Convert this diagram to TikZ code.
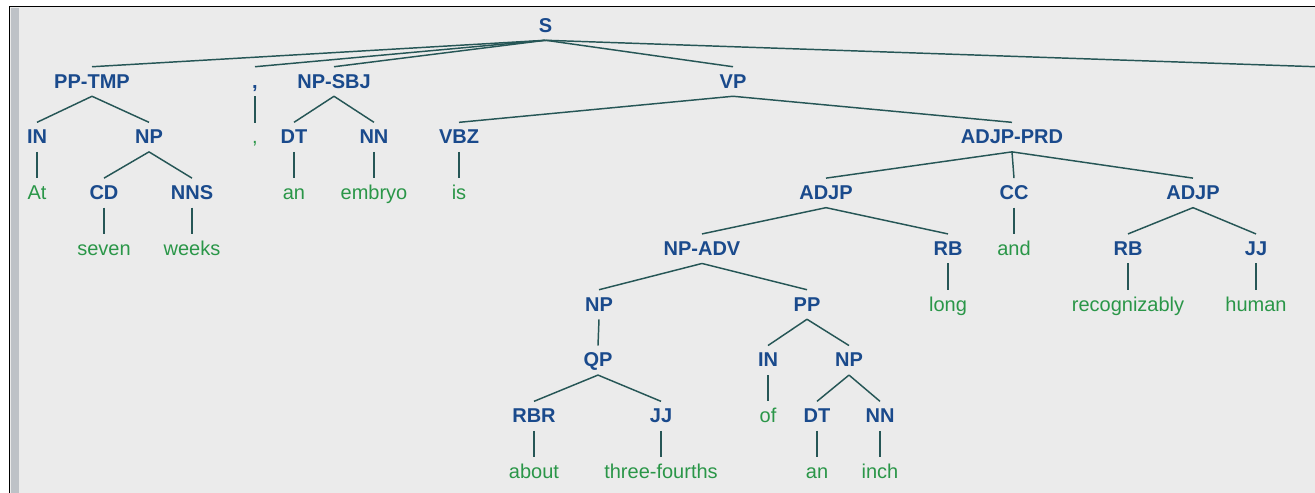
\documentclass[tikz,border=0pt]{standalone}
\usepackage{fontspec}
\setmainfont{Liberation Sans}
\usepackage{tikz}
\definecolor{catblue}{RGB}{26,74,140}
\definecolor{wordgreen}{RGB}{42,150,72}
\definecolor{branchcol}{RGB}{38,86,86}
\definecolor{panelgray}{RGB}{235,235,235}
\definecolor{stripgray}{RGB}{190,194,199}
\tikzstyle{cat} = [inner sep=0pt, anchor=base, text height=15.75pt, text depth=6pt, text=catblue, font=\fontsize{15pt}{18pt}\selectfont\bfseries]
\tikzstyle{word} = [inner sep=0pt, text height=15.75pt, text depth=6pt, text=wordgreen, font=\fontsize{15pt}{18pt}\selectfont, node distance=41.85pt]
\tikzstyle{branch} = [draw=branchcol, line width=1.1pt]

\begin{document}
\begin{tikzpicture}[x=0.75pt, y=-0.75pt]
		\useasboundingbox (0,0) rectangle (1315,493);
		\fill [white] (0,0) rectangle (1315,493);
		\fill [panelgray] (9,6) rectangle (1315,493);
		\fill [stripgray] (10.5,7.5) rectangle (19,493);
		\draw [black, line width=1.2pt] (9.5,493) -- (9.5,6.5) -- (1315,6.5);

		% phrase labels
		\node [cat] (s) at (545.5,32) {S};
		\node [cat] (pptmp) at (92,88) {PP-TMP};
		\node [cat] (comma) at (255,88) {,};
		\node [cat] (npsbj) at (334,88) {NP-SBJ};
		\node [cat] (vp) at (733,88) {VP};
		\coordinate (offright) at (1315,66.7);

		\node [cat] (inleft) at (37,143.6) {IN};
		\node [cat] (npleft) at (149,143.6) {NP};
		\node [cat] (dtsbj) at (294,143.6) {DT};
		\node [cat] (nnsbj) at (374,143.6) {NN};
		\node [cat] (vbz) at (459,143.6) {VBZ};
		\node [cat] (adjpprd) at (1012,143.6) {ADJP-PRD};

		\node [cat] (cd) at (104,199.4) {CD};
		\node [cat] (nns) at (192,199.4) {NNS};
		\node [cat] (adjpleft) at (826,199.4) {ADJP};
		\node [cat] (cc) at (1014,199.4) {CC};
		\node [cat] (adjpright) at (1193,199.4) {ADJP};

		\node [cat] (npadv) at (702,255.2) {NP-ADV};
		\node [cat] (rblong) at (948,255.2) {RB};
		\node [cat] (rbright) at (1128,255.2) {RB};
		\node [cat] (jjright) at (1256,255.2) {JJ};

		\node [cat] (npqp) at (599,311) {NP};
		\node [cat] (pp) at (807,311) {PP};

		\node [cat] (qp) at (598,366.8) {QP};
		\node [cat] (inof) at (768,366.8) {IN};
		\node [cat] (npinch) at (849,366.8) {NP};

		\node [cat] (rbr) at (534,422.6) {RBR};
		\node [cat] (jjleft) at (661,422.6) {JJ};
		\node [cat] (dtinch) at (817,422.6) {DT};
		\node [cat] (nninch) at (880,422.6) {NN};

		% words
		\node [word, below of=inleft] (wat) {At};
		\node [word, below of=comma] (wcomma) {,};
		\node [word, below of=cd] (wseven) {seven};
		\node [word, below of=nns] (wweeks) {weeks};
		\node [word, below of=dtsbj] (wan) {an};
		\node [word, below of=nnsbj] (wembryo) {embryo};
		\node [word, below of=vbz] (wis) {is};
		\node [word, below of=cc] (wand) {and};
		\node [word, below of=rblong] (wlong) {long};
		\node [word, below of=rbright] (wrecog) {recognizably};
		\node [word, below of=jjright] (whuman) {human};
		\node [word, below of=inof] (wof) {of};
		\node [word, below of=rbr] (wabout) {about};
		\node [word, below of=jjleft] (wthree) {three-fourths};
		\node [word, below of=dtinch] (wanb) {an};
		\node [word, below of=nninch] (winch) {inch};

		% branches
		\foreach \kid in {pptmp,comma,npsbj,vp}
			\draw [branch] (s.south) -- (\kid.north);
		\draw [branch] (s.south) -- (offright);
		\foreach \kid in {inleft,npleft}
			\draw [branch] (pptmp.south) -- (\kid.north);
		\foreach \kid in {cd,nns}
			\draw [branch] (npleft.south) -- (\kid.north);
		\foreach \kid in {dtsbj,nnsbj}
			\draw [branch] (npsbj.south) -- (\kid.north);
		\foreach \kid in {vbz,adjpprd}
			\draw [branch] (vp.south) -- (\kid.north);
		\foreach \kid in {adjpleft,cc,adjpright}
			\draw [branch] (adjpprd.south) -- (\kid.north);
		\foreach \kid in {npadv,rblong}
			\draw [branch] (adjpleft.south) -- (\kid.north);
		\foreach \kid in {rbright,jjright}
			\draw [branch] (adjpright.south) -- (\kid.north);
		\foreach \kid in {npqp,pp}
			\draw [branch] (npadv.south) -- (\kid.north);
		\draw [branch] (npqp.south) -- (qp.north);
		\foreach \kid in {rbr,jjleft}
			\draw [branch] (qp.south) -- (\kid.north);
		\foreach \kid in {inof,npinch}
			\draw [branch] (pp.south) -- (\kid.north);
		\foreach \kid in {dtinch,nninch}
			\draw [branch] (npinch.south) -- (\kid.north);

		\foreach \tag/\leaf in {inleft/wat,comma/wcomma,cd/wseven,nns/wweeks,dtsbj/wan,nnsbj/wembryo,vbz/wis,cc/wand,rblong/wlong,rbright/wrecog,jjright/whuman,inof/wof,rbr/wabout,jjleft/wthree,dtinch/wanb,nninch/winch}
			\draw [branch] (\tag.south) -- (\leaf.north);
\end{tikzpicture}
\end{document}
